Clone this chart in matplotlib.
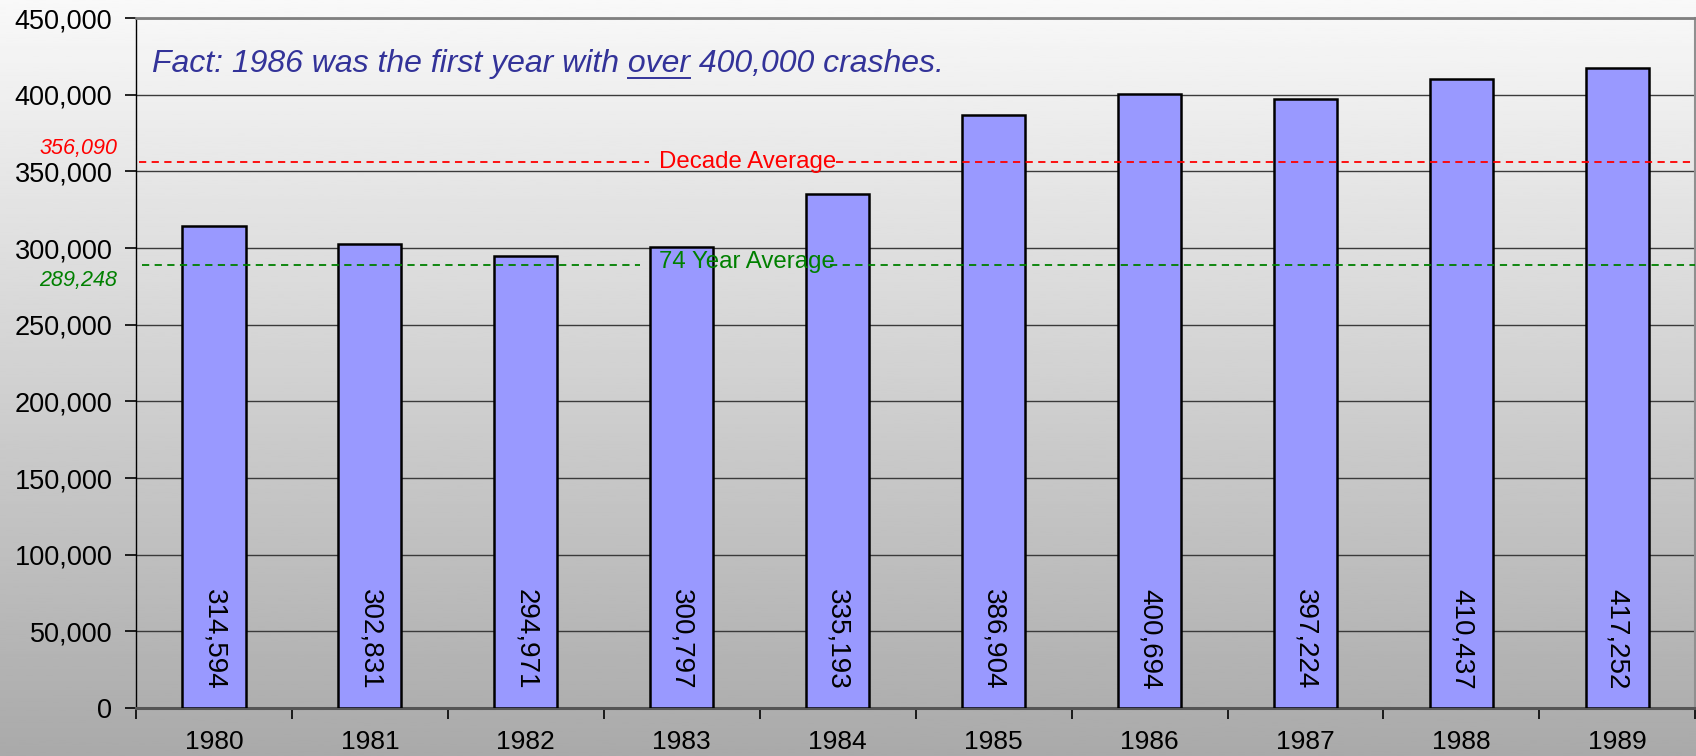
import numpy as np
import matplotlib.pyplot as plt
from matplotlib.ticker import FuncFormatter, FixedLocator

plt.rcParams['font.family'] = ['Liberation Sans', 'DejaVu Sans']

# Crash counts per year
years = ['1980', '1981', '1982', '1983', '1984', '1985', '1986', '1987', '1988', '1989']
crashes = [314594, 302831, 294971, 300797, 335193, 386904, 400694, 397224, 410437, 417252]
decade_avg = 356090
long_avg = 289248

fig = plt.figure(figsize=(16.96, 7.56), dpi=100)

# gradient background over the whole figure
bg = fig.add_axes([0, 0, 1, 1], zorder=-10)
grad = np.linspace(0.975, 0.665, 256).reshape(-1, 1)
bg.imshow(grad, cmap='gray', vmin=0, vmax=1, aspect='auto', extent=[0, 1, 0, 1])
bg.axis('off')

ax = fig.add_axes([0.0802, 0.0635, 0.9194, 0.9125])
ax.patch.set_alpha(0)

x = np.arange(len(years))
ax.bar(x, crashes, width=0.405, color='#9999FF', edgecolor='black', linewidth=1.8, zorder=3)

for xi, v in zip(x, crashes):
    ax.text(xi, 12000, f'{v:,}', rotation=-90, ha='center', va='bottom',
            fontsize=20, color='black', zorder=4)

ax.set_xlim(-0.5, 9.5)
ax.set_ylim(0, 450000)

# averages (lines broken around their labels)
dash = (0, (4, 3))
ax.plot([-0.48, 2.79], [decade_avg] * 2, ls=dash, color='red', lw=1.3, zorder=5)
ax.plot([3.99, 9.5], [decade_avg] * 2, ls=dash, color='red', lw=1.3, zorder=5)
ax.text(3.42, decade_avg, 'Decade Average', color='red', fontsize=17.3,
        ha='center', va='center', zorder=5)
ax.plot([-0.46, 2.73], [long_avg] * 2, ls=dash, color='green', lw=1.3, zorder=5)
ax.plot([3.95, 9.5], [long_avg] * 2, ls=dash, color='green', lw=1.3, zorder=5)
ax.text(3.42, long_avg + 1500, '74 Year Average', color='green', fontsize=17.3,
        ha='center', va='center', zorder=5)

ax.text(-0.62, 365000, f'{decade_avg:,}', color='red', fontsize=15.5,
        style='italic', ha='right', va='center', clip_on=False)
ax.text(-0.62, 279000, f'{long_avg:,}', color='green', fontsize=15.5,
        style='italic', ha='right', va='center', clip_on=False)

# title with underlined word
title_kw = dict(fontsize=23, style='italic', color='#333399', va='baseline')
prefix = 'Fact: 1986 was the first year with'
tx, ty = 0.0105, 0.922
ax.text(tx, ty, prefix + ' over 400,000 crashes.', transform=ax.transAxes, **title_kw)
fig.canvas.draw()
r = fig.canvas.get_renderer()
ta = ax.text(tx, ty, prefix + ' over', transform=ax.transAxes, alpha=0, **title_kw)
tw = ax.text(0, 0, 'over', transform=ax.transAxes, alpha=0, **title_kw)
x_end = ta.get_window_extent(r).x1
w_over = tw.get_window_extent(r).width
inv = ax.transAxes.inverted()
x0u = inv.transform((x_end - w_over, 0))[0]
x1u = inv.transform((x_end, 0))[0]
ax.plot([x0u, x1u], [ty - 0.009] * 2, transform=ax.transAxes, color='#333399', lw=1.4)

# grid and axis styling
ax.yaxis.set_major_locator(FixedLocator(np.arange(0, 450001, 50000)))
ax.yaxis.set_major_formatter(FuncFormatter(lambda v, p: f'{int(v):,}'))
ax.grid(axis='y', color='#3a3a3a', lw=1.0, zorder=1)
ax.set_xticks(x)
ax.set_xticklabels(years)
ax.set_xticks(np.arange(-0.5, 10, 1), minor=True)
ax.tick_params(axis='x', which='major', length=0, pad=16, labelsize=19)
ax.tick_params(axis='x', which='minor', length=8, width=1.2, color='black', direction='out')
ax.tick_params(axis='y', length=8, width=1.2, labelsize=19.5, pad=9)

ax.spines['left'].set_color('black')
ax.spines['left'].set_linewidth(1.0)
ax.spines['bottom'].set_color('#555555')
ax.spines['bottom'].set_linewidth(2.2)
ax.spines['top'].set_color('#808080')
ax.spines['top'].set_linewidth(2.0)
ax.spines['right'].set_color('#909090')
ax.spines['right'].set_linewidth(1.5)

plt.savefig('out.png', dpi=100)
plt.close()
